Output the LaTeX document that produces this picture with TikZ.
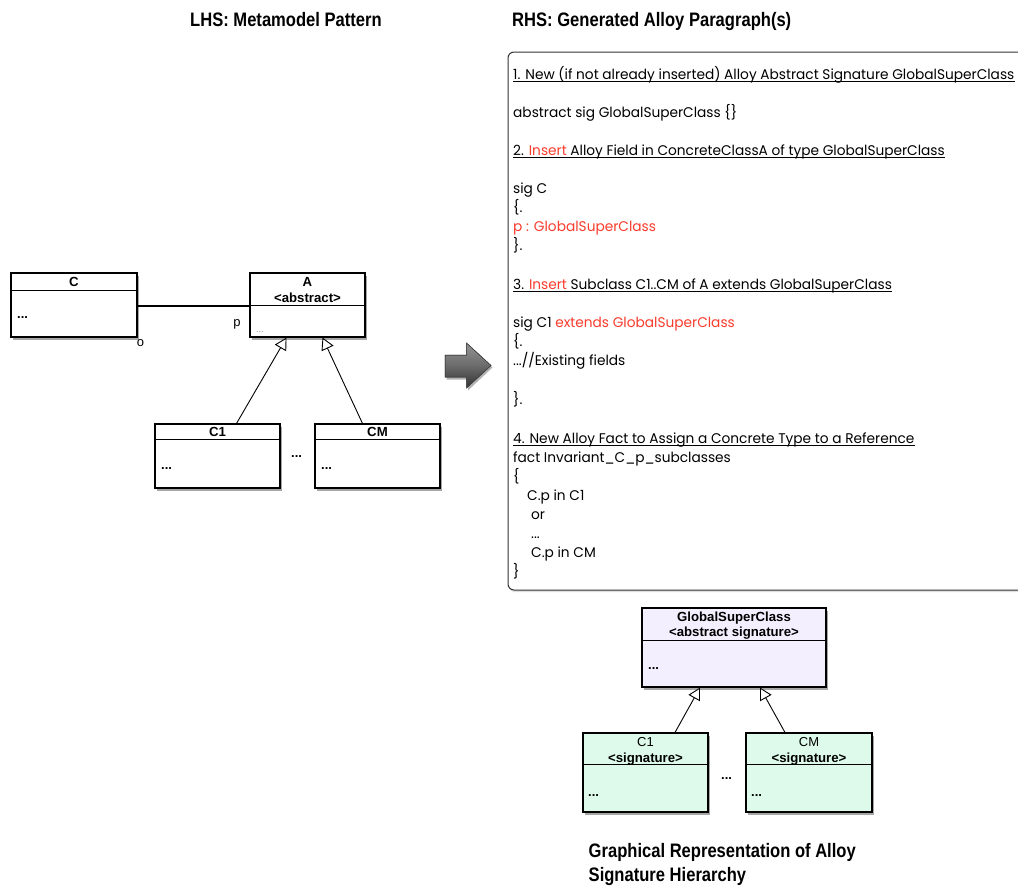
\documentclass[tikz,border=0pt]{standalone}
\usepackage{fontspec}
\setmainfont{Liberation Sans}
\newfontfamily\parafont[FakeStretch=0.98]{Poppins}
\newfontfamily\condfont[FakeStretch=0.85]{Liberation Sans}
\usetikzlibrary{shadows,arrows.meta}
\definecolor{alred}{RGB}{250,60,45}
\definecolor{lav}{RGB}{243,239,254}
\definecolor{mint}{RGB}{221,250,234}
\begin{document}
\begin{tikzpicture}[x=1pt,y=-1pt,
  umlbox/.style={draw=black, line width=1.1pt, fill=white, inner sep=0pt,
    drop shadow={shadow xshift=2pt, shadow yshift=-3pt, opacity=0.35, fill=black}},
  divider/.style={line width=1pt},
  umltext/.style={inner sep=0pt, anchor=base, font=\fontsize{13.2}{14}\selectfont\bfseries},
  umlplain/.style={inner sep=0pt, anchor=base, font=\fontsize{13}{14}\selectfont},
  dotsb/.style={inner sep=0pt, anchor=base west, font=\fontsize{13}{14}\selectfont\bfseries},
  inh/.style={line width=0.9pt, -{Triangle[open, length=12pt, width=13pt, fill=white]}},
  titletext/.style={inner sep=0pt, anchor=base west, font=\condfont\bfseries\fontsize{19.5}{22}\selectfont},
  tline/.style={inner sep=0pt, anchor=base west, font=\parafont\fontsize{14}{16}\selectfont},
  uline/.style={line width=0.8pt},
]
\useasboundingbox (0,0) rectangle (1018,886);

% titles
\node[titletext] (lhs) at (190,26.5) {LHS: Metamodel Pattern};
\node[titletext] (rhs) at (512,26.5) {RHS: Generated Alloy Paragraph(s)};

% ---------- LHS ----------
\node[umlbox, minimum width=126pt, minimum height=64pt] (C) at (74,305) {};
\draw[divider] ([yshift=-18pt]C.north west) -- ([yshift=-18pt]C.north east);
\node[umltext] (Ct) at (74,286.5) {C};
\node[dotsb] (Cd) at (17,318) {...};

\node[umlbox, minimum width=115pt, minimum height=64pt] (A) at (307.5,305) {};
\draw[divider] ([yshift=-33pt]A.north west) -- ([yshift=-33pt]A.north east);
\node[umltext] (At) at (307.5,286.5) {A};
\node[umltext] (As) at (307.5,302) {<abstract>};
\node[inner sep=0pt, anchor=base west, font=\fontsize{9}{10}\selectfont, text=black!45] (Ad) at (256,332) {...};

\coordinate (assocy) at (0,306);
\draw[line width=2.4pt] (C.east |- assocy) -- (A.west |- assocy);
\node[umlplain] (pl) at (237,326) {p};
\node[umlplain] (ol) at (140.5,346.5) {o};

\node[umlbox, minimum width=125pt, minimum height=64pt] (C1) at (217.5,456) {};
\draw[divider] ([yshift=-16pt]C1.north west) -- ([yshift=-16pt]C1.north east);
\node[umltext] (C1t) at (217.5,436.5) {C1};
\node[dotsb] (C1d) at (161,469) {...};

\node[umlbox, minimum width=125pt, minimum height=64pt] (CM) at (377.5,456) {};
\draw[divider] ([yshift=-16pt]CM.north west) -- ([yshift=-16pt]CM.north east);
\node[umltext] (CMt) at (377.5,436.5) {CM};
\node[dotsb] (CMd) at (321,469) {...};

\node[dotsb] (mid) at (291,457) {...};

\draw[inh] ([xshift=19pt]C1.north) -- ([xshift=-21pt]A.south);
\draw[inh] ([xshift=-15pt]CM.north) -- ([xshift=15pt]A.south);

% ---------- big arrow (drawn shape) ----------
\fill[black, opacity=0.3] (446.5,357.5) -- (468,357.5) -- (468,345.5) -- (492.5,367.5)
  -- (468,390.5) -- (468,379.5) -- (446.5,379.5) -- cycle;
\shade[top color=black!42, bottom color=black!80, middle color=black!58, draw=black!75, line width=0.5pt]
  (445,355) -- (466.5,355) -- (466.5,343) -- (491,365.5) -- (466.5,388) -- (466.5,377) -- (445,377) -- cycle;
\draw[black!75, line width=0.5pt]
  (445,355) -- (466.5,355) -- (466.5,343) -- (491,365.5) -- (466.5,388) -- (466.5,377) -- (445,377) -- cycle;

% ---------- paragraph box ----------
\node[draw=black!80, line width=1pt, rounded corners=6pt, minimum width=522pt,
  minimum height=538pt, inner sep=0pt, fill=white,
  drop shadow={shadow xshift=1pt, shadow yshift=-2pt, opacity=0.25}] (para) at (769,321) {};

\node[tline] (l1) at (513,79) {1. New (if not already inserted) Alloy Abstract Signature GlobalSuperClass};
\draw[uline] ([yshift=-2pt]l1.base west) -- ([yshift=-2pt]l1.base east);
\node[tline] (l2) at (513,117) {abstract sig GlobalSuperClass \{\}};
\node[tline] (l3) at (513,155) {2. \textcolor{alred}{Insert} Alloy Field in ConcreteClassA of type GlobalSuperClass};
\draw[uline] ([yshift=-2pt]l3.base west) -- ([yshift=-2pt]l3.base east);
\node[tline] (l4) at (513,193) {sig C};
\node[tline] (l5) at (513,212) {\{.};
\node[tline, text=alred] (l6) at (513,231) {p : GlobalSuperClass};
\node[tline] (l7) at (513,250) {\}.};
\node[tline] (l8) at (513,289) {3. \textcolor{alred}{Insert} Subclass C1..CM of A extends GlobalSuperClass};
\draw[uline] ([yshift=-2pt]l8.base west) -- ([yshift=-2pt]l8.base east);
\node[tline] (l9) at (513,327) {sig C1 \textcolor{alred}{extends GlobalSuperClass}};
\node[tline] (l10) at (513,346) {\{.};
\node[tline] (l11) at (513,365) {...//Existing fields};
\node[tline] (l12) at (513,404) {\}.};
\node[tline] (l13) at (513,443) {4. New Alloy Fact to Assign a Concrete Type to a Reference};
\draw[uline] ([yshift=-2pt]l13.base west) -- ([yshift=-2pt]l13.base east);
\node[tline] (l14) at (513,462) {fact Invariant\_C\_p\_subclasses};
\node[tline] (l15) at (513,481) {\{};
\node[tline] (l16) at (527,500) {C.p in C1};
\node[tline] (l17) at (531,519) {or};
\node[tline] (l18) at (531,538) {...};
\node[tline] (l19) at (531,557) {C.p in CM};
\node[tline] (l20) at (513,576) {\}};

% ---------- signature hierarchy ----------
\node[umlbox, fill=lav, minimum width=184pt, minimum height=79pt] (GSC) at (734,647.5) {};
\draw[divider] ([yshift=-33pt]GSC.north west) -- ([yshift=-33pt]GSC.north east);
\node[umltext] (GSCt) at (734,621.5) {GlobalSuperClass};
\node[umltext] (GSCs) at (734,636.5) {<abstract signature>};
\node[dotsb] (GSCd) at (648,669) {...};

\node[umlbox, fill=mint, minimum width=125pt, minimum height=79pt] (C1s) at (645.5,772.5) {};
\draw[divider] ([yshift=-32pt]C1s.north west) -- ([yshift=-32pt]C1s.north east);
\node[umlplain] (C1st) at (645.5,746.5) {C1};
\node[umltext] (C1ss) at (645.5,762) {<signature>};
\node[dotsb] (C1sd) at (588,796) {...};

\node[umlbox, fill=mint, minimum width=126pt, minimum height=79pt] (CMs) at (809,772.5) {};
\draw[divider] ([yshift=-32pt]CMs.north west) -- ([yshift=-32pt]CMs.north east);
\node[umlplain] (CMst) at (809,746.5) {CM};
\node[umltext] (CMss) at (809,762) {<signature>};
\node[dotsb] (CMsd) at (751,796) {...};

\node[dotsb] (mids) at (721,779) {...};

\draw[inh] ([xshift=29.5pt]C1s.north) -- ([xshift=-34pt]GSC.south);
\draw[inh] ([xshift=-24pt]CMs.north) -- ([xshift=26pt]GSC.south);

% caption
\node[titletext] (cap1) at (588.5,857) {Graphical Representation of Alloy};
\node[titletext] (cap2) at (588.5,881.5) {Signature Hierarchy};
\end{tikzpicture}
\end{document}
